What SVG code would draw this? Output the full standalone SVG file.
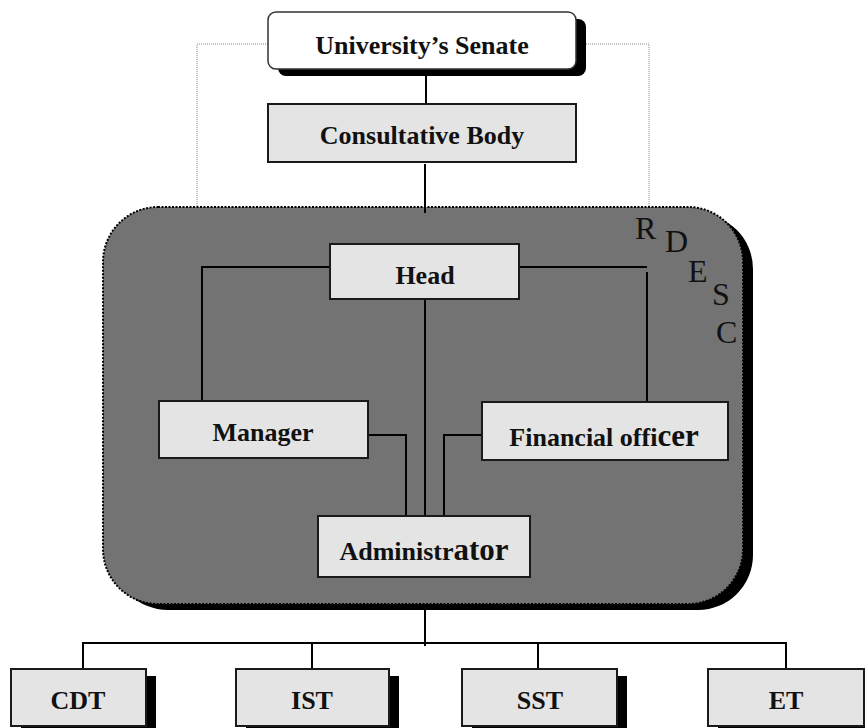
<svg xmlns="http://www.w3.org/2000/svg" width="865" height="728" viewBox="0 0 865 728">
<style>
.box{fill:#e4e4e4;stroke:#1a1a1a;stroke-width:2}
.shadow{fill:#000}
.lbl{font-family:"Liberation Serif","Times New Roman",serif;font-weight:bold;font-size:26px;fill:#111;text-anchor:middle}
.big{font-size:31px}
.rdesc{font-family:"Liberation Serif","Times New Roman",serif;font-size:32px;fill:#111}
.conn{stroke:#000;stroke-width:2;fill:none}
.dot{stroke:#888;stroke-width:1;stroke-dasharray:1 1;fill:none}
</style>
<rect width="865" height="728" fill="#fff"/>
<g id="connectors-dotted">
<path class="dot" d="M268,44 H197 V215"/>
<path class="dot" d="M576,44 H649 V215"/>
</g>
<g id="rdesc-container">
<rect x="113" y="214" width="640" height="396" rx="55" class="shadow"/>
<rect x="103" y="207" width="640" height="397" rx="55" fill="#737373"/>
<rect x="103" y="207" width="640" height="397" rx="55" fill="none" stroke="#000" stroke-width="2" stroke-dasharray="2 1.5"/>
<text class="rdesc" x="635" y="239">R</text>
<text class="rdesc" x="665" y="252">D</text>
<text class="rdesc" x="688" y="282">E</text>
<text class="rdesc" x="712" y="305">S</text>
<text class="rdesc" x="716" y="343">C</text>
</g>
<g id="connectors">
<path class="conn" d="M426,69 V104"/>
<path class="conn" d="M425,164 V213"/>
<path class="conn" d="M330,267 H202 V400"/>
<path class="conn" d="M519,267 H647"/>
<path class="conn" d="M647,272 V402"/>
<path class="conn" d="M425,299 V516"/>
<path class="conn" d="M368,435 H406 V516"/>
<path class="conn" d="M482,435 H444 V516"/>
<path class="conn" d="M425,610 V646"/>
<path class="conn" d="M83,669 V643 H786 V669"/>
<path class="conn" d="M312,643 V669"/>
<path class="conn" d="M538,643 V669"/>
</g>
<g id="senate">
<rect x="278" y="19" width="308" height="57" rx="8" class="shadow"/>
<rect x="268" y="12" width="308" height="57" rx="8" fill="#fff" stroke="#333" stroke-width="1.5"/>
<text class="lbl" x="422" y="54">University’s Senate</text>
</g>
<g id="consultative">
<rect x="268" y="104" width="308" height="58" class="box"/>
<text class="lbl" x="422" y="144">Consultative Body</text>
</g>
<g id="head">
<rect x="330" y="244" width="189" height="55" class="box"/>
<text class="lbl" x="425" y="284">Head</text>
</g>
<g id="manager">
<rect x="159" y="401" width="209" height="57" class="box"/>
<text class="lbl" x="263" y="441">Manager</text>
</g>
<g id="financial">
<rect x="482" y="402" width="246" height="58" class="box"/>
<text class="lbl" x="604" y="446">Financial offi<tspan class="big">cer</tspan></text>
</g>
<g id="administrator">
<rect x="318" y="516" width="212" height="61" class="box"/>
<text class="lbl" x="424" y="560">Administr<tspan class="big">ator</tspan></text>
</g>
<g id="cdt">
<rect x="21" y="676" width="135" height="60" class="shadow"/>
<rect x="11" y="669" width="135" height="57" class="box"/>
<text class="lbl" x="78" y="709">CDT</text>
</g>
<g id="ist">
<rect x="246" y="676" width="153" height="60" class="shadow"/>
<rect x="236" y="669" width="153" height="57" class="box"/>
<text class="lbl" x="312" y="709">IST</text>
</g>
<g id="sst">
<rect x="472" y="676" width="155" height="60" class="shadow"/>
<rect x="462" y="669" width="155" height="57" class="box"/>
<text class="lbl" x="540" y="709">SST</text>
</g>
<g id="et">
<rect x="718" y="676" width="156" height="60" class="shadow"/>
<rect x="708" y="669" width="156" height="57" class="box"/>
<text class="lbl" x="786" y="709">ET</text>
</g>
</svg>
